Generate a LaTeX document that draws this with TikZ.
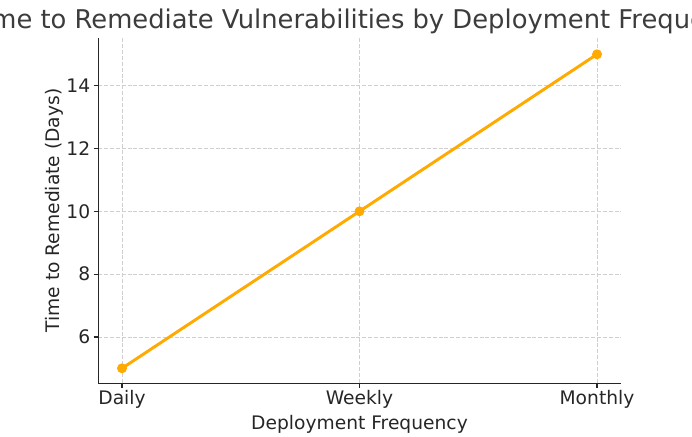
\documentclass[tikz,border=0pt]{standalone}
\usepackage{fontspec}
\setmainfont{DejaVu Sans}
\begin{document}
\begin{tikzpicture}[x={(0.75pt,0)}, y={(0,-0.75pt)},
  txt/.style={text=textgray, inner sep=0pt},
  ticklbl/.style={txt, font=\fontsize{14}{17}\selectfont},
  gridline/.style={draw=gridgray, line width=0.6pt, dash pattern=on 3pt off 1.4pt},
  spine/.style={draw=spinegray, line width=0.9pt},
  tickmark/.style={draw=spinegray, line width=0.9pt},
  series/.style={draw=lineorange, line width=2.2pt, line cap=round, line join=round},
  dot/.style={circle, fill=lineorange, minimum size=7.5pt, inner sep=0pt}]
\definecolor{textgray}{HTML}{262626}
\definecolor{gridgray}{HTML}{CFCFCF}
\definecolor{spinegray}{HTML}{262626}
\definecolor{lineorange}{HTML}{FFAA00}
\useasboundingbox (0,0) rectangle (692,436);
\clip (0,0) rectangle (692,436);

% axes frame corners
\coordinate (origin) at (98.25,383.5);
\coordinate (ytop) at (98.25,38.3);
\coordinate (xend) at (620.75,383.5);

% vertical grid lines at the categories
\foreach \x/\n in {122/d, 359.5/w, 597/m}{
  \coordinate (gt\n) at (\x,38.3);
  \coordinate (gb\n) at (\x,383.5);
  \draw[gridline] (gt\n) -- (gb\n);
}
% horizontal grid lines at the y ticks
\foreach \v in {6,8,10,12,14}{
  \coordinate (gl\v) at (98.25,{368.3-31.4*(\v-5)});
  \coordinate (gr\v) at (620.75,{368.3-31.4*(\v-5)});
  \draw[gridline] (gl\v) -- (gr\v);
}

% spines
\draw[spine] (ytop) -- (origin) -- (xend);

% y ticks and labels
\foreach \v in {6,8,10,12,14}{
  \coordinate (yt\v) at (93.5,{368.3-31.4*(\v-5)});
  \draw[tickmark] (yt\v) -- (gl\v);
  \node[ticklbl, anchor=east] (yl\v) at (90.5,{368.3-31.4*(\v-5)}) {\v};
}

% x ticks and labels
\foreach \x/\n/\t in {122/d/Daily, 359.5/w/Weekly, 597/m/Monthly}{
  \coordinate (xt\n) at (\x,388.2);
  \draw[tickmark] (gb\n) -- (xt\n);
  \node[ticklbl, anchor=base] (xl\n) at (\x,404.5) {\t};
}

% axis titles
\node[ticklbl, anchor=base] (xlabel) at (359.5,429.5) {Deployment Frequency};
\node[ticklbl, anchor=base, rotate=90] (ylabel) at (59.5,210.5) {Time to Remediate (Days)};

% title
\node[txt, font=\fontsize{19.35}{24}\selectfont, anchor=base, text=textgray!90] (title) at (360.5,28) {Time to Remediate Vulnerabilities by Deployment Frequency};

% data series
\node[dot] (pd) at (122,368.3) {};
\node[dot] (pw) at (359.5,211.3) {};
\node[dot] (pm) at (597,54.3) {};
\draw[series] (pd.center) -- (pw.center) -- (pm.center);
\end{tikzpicture}
\end{document}
